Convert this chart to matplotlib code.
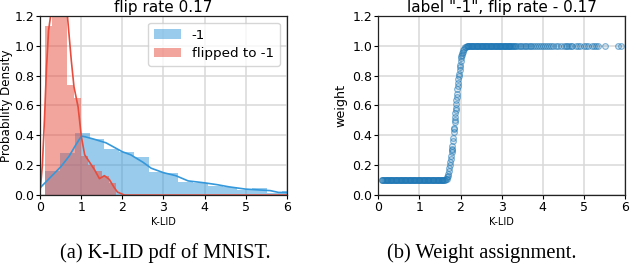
import matplotlib
matplotlib.use("Agg")
import matplotlib.pyplot as plt
import numpy as np

# ---- data ----
# left: histograms (bin edges + heights) and KDE curves
blue_edges = [0.12, 0.48, 0.84, 1.20, 1.56, 1.92, 2.28, 2.64, 3.00, 3.36, 3.72,
              4.08, 4.44, 4.80, 5.16, 5.52, 5.88, 6.24]
blue_heights = [0.163, 0.283, 0.415, 0.375, 0.31, 0.29, 0.255, 0.155, 0.15,
                0.09, 0.078, 0.058, 0.056, 0.033, 0.05, 0.016, 0.026]
red_edges = [0.12, 0.29, 0.465, 0.64, 0.81, 0.98, 1.155, 1.33, 1.50, 1.67, 1.845]
red_heights = [1.13, 1.35, 1.30, 0.74, 0.65, 0.26, 0.20, 0.16, 0.13, 0.08]

blue_kde_x = [0.0, 0.25, 0.5, 0.7, 0.85, 1.0, 1.1, 1.3, 1.6, 1.8, 2.0, 2.2, 2.5,
              2.7, 3.0, 3.3, 3.6, 4.0, 4.3, 4.6, 5.0, 5.3, 5.6, 5.8, 6.0]
blue_kde_y = [0.05, 0.12, 0.19, 0.26, 0.33, 0.395, 0.39, 0.375, 0.35, 0.32, 0.29,
              0.27, 0.22, 0.18, 0.15, 0.13, 0.095, 0.082, 0.07, 0.055, 0.04, 0.035,
              0.03, 0.018, 0.017]
red_kde_x = [0.0, 0.05, 0.1, 0.15, 0.2, 0.26, 0.35, 0.45, 0.55, 0.66, 0.755, 0.82,
             0.92, 1.0, 1.08, 1.2, 1.32, 1.44, 1.56, 1.68, 1.8, 1.88, 2.05, 3.0, 6.0]
red_kde_y = [0.04, 0.2, 0.5, 0.85, 1.1, 1.22, 1.4, 1.48, 1.4, 1.2, 0.9, 0.725,
             0.59, 0.39, 0.27, 0.22, 0.17, 0.11, 0.13, 0.105, 0.05, 0.02, 0.0, 0.0, 0.0]

# right: K-LID vs weight (low plateau, rise, high plateau)
klid_low = [0.08, 0.10, 0.12, 0.14, 0.16, 0.18, 0.20, 0.22, 0.24, 0.26, 0.28,
            0.30, 0.32, 0.34, 0.36, 0.38, 0.40, 0.42, 0.44, 0.46, 0.48, 0.50,
            0.52, 0.54, 0.56, 0.58, 0.60, 0.62, 0.64, 0.66, 0.68, 0.70, 0.72,
            0.74, 0.76, 0.78, 0.80, 0.82, 0.84, 0.86, 0.88, 0.90, 0.92, 0.94,
            0.96, 0.98, 1.00, 1.02, 1.04, 1.06, 1.08, 1.10, 1.12, 1.14, 1.16,
            1.18, 1.20, 1.22, 1.24, 1.26, 1.28, 1.30, 1.32, 1.34, 1.36, 1.38,
            1.40, 1.42, 1.44, 1.46, 1.48, 1.50, 1.52, 1.54, 1.56, 1.58, 1.60]
w_low = [0.10] * len(klid_low)

klid_mid = [1.62, 1.64, 1.66, 1.68, 1.69, 1.70, 1.72, 1.73, 1.745, 1.75, 1.76,
            1.77, 1.78, 1.785, 1.79, 1.80, 1.81, 1.82, 1.83, 1.84, 1.845, 1.855,
            1.86, 1.865, 1.875, 1.88, 1.885, 1.89, 1.90, 1.905, 1.91, 1.92,
            1.93, 1.935, 1.95, 1.96, 1.965, 1.975, 1.98, 1.99, 2.00, 2.01, 2.02,
            2.03, 2.04, 2.06, 2.07, 2.09, 2.11, 2.13]
w_mid = [0.10, 0.105, 0.11, 0.12, 0.13, 0.14, 0.16, 0.18, 0.20, 0.22, 0.24,
         0.26, 0.29, 0.30, 0.31, 0.33, 0.36, 0.38, 0.42, 0.44, 0.45, 0.49,
         0.50, 0.52, 0.55, 0.57, 0.58, 0.61, 0.64, 0.66, 0.68, 0.71,
         0.73, 0.75, 0.78, 0.80, 0.81, 0.84, 0.86, 0.87, 0.90, 0.92, 0.93,
         0.94, 0.95, 0.96, 0.97, 0.98, 0.99, 0.995]

klid_high = [2.15, 2.17, 2.19, 2.21, 2.23, 2.25, 2.27, 2.29, 2.31, 2.33, 2.35,
             2.37, 2.39, 2.41, 2.43, 2.45, 2.47, 2.49, 2.51, 2.53, 2.55, 2.57,
             2.59, 2.61, 2.63, 2.65, 2.67, 2.69, 2.71, 2.73, 2.75, 2.77, 2.79,
             2.81, 2.83, 2.85, 2.87, 2.89, 2.91, 2.93, 2.95, 2.97, 2.99, 3.01,
             3.03, 3.05, 3.07, 3.09, 3.11, 3.13, 3.15, 3.17, 3.19, 3.21, 3.23,
             3.25, 3.27, 3.30, 3.33, 3.36, 3.40, 3.44, 3.48, 3.52, 3.56, 3.60,
             3.64, 3.68, 3.72, 3.76, 3.80, 3.85, 3.90, 3.95, 4.00, 4.05, 4.10,
             4.15, 4.20, 4.26, 4.32, 4.38,
             4.45, 4.52, 4.56, 4.60, 4.63, 4.68, 4.72, 4.80, 4.85, 4.90, 5.00,
             5.05, 5.10, 5.20, 5.25, 5.30, 5.35, 5.52, 5.82, 5.90]
w_high = [1.0] * len(klid_high)

blue = "#3498db"
red = "#e74c3c"
grid_c = "#d9d9d9"

plt.rcParams["font.family"] = "DejaVu Sans"
fig = plt.figure(figsize=(6.30, 2.74), dpi=100)
ax1 = fig.add_axes([0.064, 0.288, 0.391, 0.654])
ax2 = fig.add_axes([0.6005, 0.288, 0.3916, 0.654])

for ax in (ax1, ax2):
    ax.set_axisbelow(True)
    ax.grid(True, color=grid_c, linewidth=1.1)
    ax.set_xlim(0, 6)
    ax.set_ylim(0, 1.2)
    ax.set_xticks(range(7))
    ax.set_yticks([0.0, 0.2, 0.4, 0.6, 0.8, 1.0, 1.2])
    ax.tick_params(labelsize=9, length=3, width=0.8, pad=1.5)
    ax.set_xlabel("K-LID", fontsize=7, labelpad=2)
    for s in ax.spines.values():
        s.set_linewidth(0.9)
        s.set_color("#222222")

# left panel
bw = np.diff(blue_edges)
ax1.bar(blue_edges[:-1], blue_heights, width=bw, align="edge", color=blue,
        alpha=0.5, linewidth=0, label="-1")
rw = np.diff(red_edges)
ax1.bar(red_edges[:-1], red_heights, width=rw, align="edge", color=red,
        alpha=0.5, linewidth=0, label="flipped to -1")
ax1.plot(blue_kde_x, blue_kde_y, color=blue, lw=1.2)
ax1.plot(red_kde_x, red_kde_y, color=red, lw=1.2)
ax1.set_ylabel("Probability Density", fontsize=8.6, labelpad=1)
ax1.set_title("flip rate 0.17", fontsize=11, pad=3)
ax1.legend(loc="upper right", fontsize=9.7, framealpha=0.8, edgecolor="#cccccc",
           handlelength=2.0, borderpad=0.45, labelspacing=0.4)

# right panel
sc_face = (0.12, 0.47, 0.71, 0.15)
sc_edge = (0.12, 0.47, 0.71, 0.55)
for xs, ws in ((klid_low, w_low), (klid_mid, w_mid), (klid_high, w_high)):
    ax2.scatter(xs, ws, s=17, facecolors=sc_face, edgecolors=sc_edge,
                linewidths=0.8)
ax2.set_ylabel("weight", fontsize=9.2, labelpad=3)
ax2.set_title('label "-1", flip rate - 0.17', fontsize=11, pad=3)

fig.text(0.262, 0.077, "(a) K-LID pdf of MNIST.", ha="center", va="center",
         family="Liberation Serif", fontsize=14.8)
fig.text(0.765, 0.077, "(b) Weight assignment.", ha="center", va="center",
         family="Liberation Serif", fontsize=14.8)

fig.savefig("out.png", dpi=100)
